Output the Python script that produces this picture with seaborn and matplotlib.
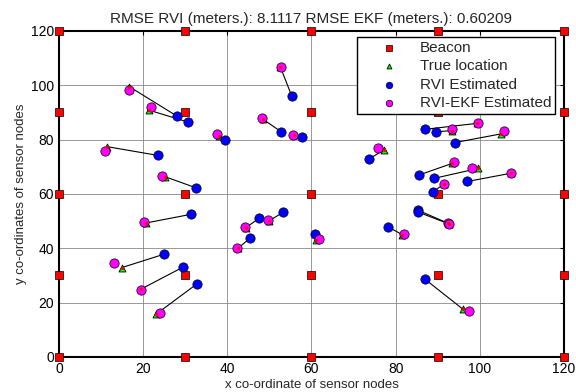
import matplotlib
matplotlib.use("Agg")
import matplotlib.pyplot as plt
import pandas as pd
import seaborn as sns

# beacon grid positions (meters)
beacon_pos = [0, 30, 60, 90, 120]

# sensor nodes: true location, RVI estimate, RVI-EKF estimate
true_x = [16.7, 21.3, 11.5, 25.3, 38.0, 52.6, 48.5, 55.8, 77.2, 93.3, 99.4, 105.0, 93.5, 99.6,
          107.3, 91.4, 20.6, 14.9, 19.4, 23.1, 44.4, 49.8, 42.5, 61.0, 81.6, 92.5, 92.8, 95.9]
true_y = [99.5, 90.9, 77.4, 66.3, 81.5, 106.8, 87.5, 81.6, 76.2, 83.3, 86.0, 82.1, 71.3, 69.4,
          67.6, 63.6, 49.3, 32.9, 24.9, 15.8, 47.6, 50.0, 40.0, 43.2, 45.0, 49.2, 48.9, 17.7]
rvi_x = [28.0, 30.6, 23.5, 32.5, 39.5, 55.3, 52.8, 57.7, 73.7, 89.5, 87.0, 94.0, 85.6, 89.0,
         97.0, 88.8, 31.3, 24.9, 29.5, 32.7, 47.5, 53.2, 45.4, 60.8, 78.1, 85.2, 85.4, 87.0]
rvi_y = [88.7, 86.5, 74.2, 62.3, 79.9, 96.1, 82.9, 81.0, 72.9, 82.9, 83.8, 78.9, 67.0, 65.7,
         64.6, 60.6, 52.5, 37.8, 33.1, 26.8, 51.0, 53.2, 43.7, 45.2, 48.0, 54.1, 53.3, 28.6]
ekf_x = [16.6, 21.9, 10.9, 24.5, 37.5, 52.8, 48.2, 55.5, 75.9, 93.5, 99.5, 105.8, 93.9, 98.1,
         107.3, 91.6, 20.3, 13.1, 19.6, 24.0, 44.2, 49.6, 42.3, 61.9, 82.0, 92.4, 92.7, 97.5]
ekf_y = [98.3, 92.1, 75.8, 66.6, 81.9, 106.6, 87.8, 81.7, 76.8, 83.9, 86.2, 83.3, 71.9, 69.4,
         67.6, 63.8, 49.7, 34.6, 24.7, 16.3, 47.8, 50.3, 40.1, 43.3, 45.2, 49.4, 49.0, 17.1]

rmse_rvi = 8.1117
rmse_ekf = 0.60209

beacons = pd.DataFrame([(bx, by) for bx in beacon_pos for by in beacon_pos], columns=["x", "y"])
nodes = pd.DataFrame({"tx": true_x, "ty": true_y, "rx": rvi_x, "ry": rvi_y,
                      "ex": ekf_x, "ey": ekf_y})

sns.set_style("white")
plt.rcParams["font.family"] = ["Liberation Sans", "DejaVu Sans"]
plt.rcParams["font.size"] = 9.5

fig = plt.figure(figsize=(5.76, 3.92), dpi=100)
ax = fig.add_axes([0.1024, 0.0893, 0.8767, 0.8317])

for _, row in nodes.iterrows():
    ax.plot([row.rx, row.tx], [row.ry, row.ty], color="black", lw=0.8, zorder=2)

sns.scatterplot(data=beacons, x="x", y="y", marker="s", color="red", edgecolor="black",
                linewidth=0.5, s=40, ax=ax, zorder=3, clip_on=False, label="Beacon")
sns.scatterplot(data=nodes, x="tx", y="ty", marker="^", color="#00ff00", edgecolor="black",
                linewidth=0.6, s=25, ax=ax, zorder=3, label="True location")
sns.scatterplot(data=nodes, x="rx", y="ry", marker="o", color="#0000ff", edgecolor="black",
                linewidth=0.5, s=45, ax=ax, zorder=4, label="RVI Estimated")
sns.scatterplot(data=nodes, x="ex", y="ey", marker="o", color="#ff00ff", edgecolor="black",
                linewidth=0.5, s=45, ax=ax, zorder=5, label="RVI-EKF Estimated")
# red dot marking the true position on top
ax.scatter(nodes.tx, nodes.ty, marker="o", color="red", s=5, linewidths=0, zorder=6)

ax.set_xlim(0, 120)
ax.set_ylim(0, 120)
ax.set_xticks(range(0, 121, 20))
ax.set_yticks(range(0, 121, 20))
ax.grid(True, color="#888888", lw=0.6)
ax.tick_params(direction="in", length=3, top=True, right=True, labelsize=10, colors="black")
for sp in ax.spines.values():
    sp.set_color("black")
    sp.set_linewidth(1.5)

ax.set_xlabel("x co-ordinate of sensor nodes", fontsize=9.5, labelpad=2)
ax.set_ylabel("y co-ordinates of sensor nodes", fontsize=9.5, labelpad=3)
ax.set_title(f"RMSE RVI (meters.): {rmse_rvi} RMSE EKF (meters.): {rmse_ekf}",
             fontsize=11, pad=6)

leg = ax.legend(loc="upper right", bbox_to_anchor=(0.982, 0.982), fontsize=11, frameon=True,
                fancybox=False, edgecolor="black", framealpha=1, markerscale=0.7,
                handletextpad=0.1, borderpad=0.25, labelspacing=0.3, handlelength=3.75,
                borderaxespad=0)
leg.get_frame().set_linewidth(1.0)
leg.set_zorder(10)

fig.savefig("out.png", dpi=100)
